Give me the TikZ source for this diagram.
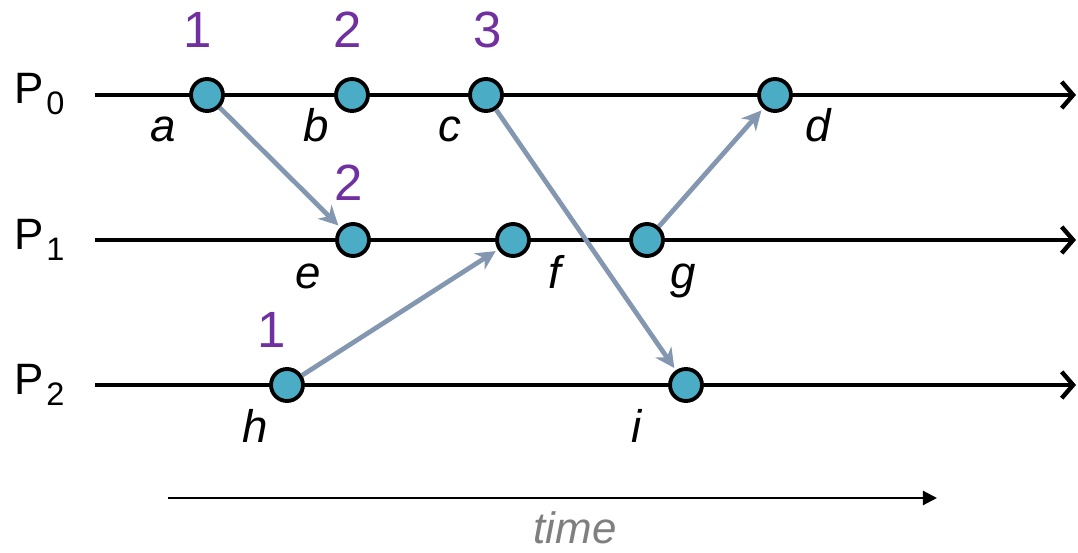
\documentclass[tikz,border=0pt]{standalone}
\usepackage{fontspec}
\setmainfont{Liberation Sans}
\usetikzlibrary{arrows.meta}
\definecolor{evfill}{HTML}{4BACC6}
\definecolor{msgcol}{HTML}{8497B0}
\definecolor{numcol}{HTML}{7030A0}
\definecolor{timecol}{HTML}{7F7F7F}
\begin{document}
\begin{tikzpicture}[x=0.02cm,y=-0.02cm,
  event/.style={circle,draw=black,line width=2.2pt,fill=evfill,minimum size=0.64cm,inner sep=0pt},
  proc/.style={line width=2.5pt,-{Straight Barb[length=6.5pt,width=15pt]}},
  msg/.style={draw=msgcol,line width=2.7pt,shorten >=1.5pt,-{Stealth[length=11pt,width=11pt,inset=3.5pt]}},
  evlab/.style={anchor=base,inner sep=0pt,font=\fontsize{26}{26}\selectfont\itshape},
  num/.style={anchor=base,inner sep=0pt,text=numcol,font=\fontsize{29}{29}\selectfont},
  plab/.style={anchor=base west,inner sep=0pt,font=\fontsize{25}{25}\selectfont},
  timelab/.style={anchor=base,inner sep=0pt,text=timecol,font=\fontsize{25}{25}\selectfont\itshape},
  timearrow/.style={line width=1.2pt,-{Triangle[length=8pt,width=8pt]}}]
\useasboundingbox (0,0) rectangle (1078,553);

% process lines
\coordinate (p0s) at (95,95);  \coordinate (p0e) at (1076,95);
\coordinate (p1s) at (95,240); \coordinate (p1e) at (1076,240);
\coordinate (p2s) at (95,385); \coordinate (p2e) at (1076,385);
\draw[proc] (p0s) -- (p0e);
\draw[proc] (p1s) -- (p1e);
\draw[proc] (p2s) -- (p2e);

% process labels
\newcommand{\procname}[1]{P\hspace{1.5pt}\raisebox{-6.2pt}{\fontsize{18.5}{18.5}\selectfont #1}}
\node[plab] (lp0) at (14,104) {\procname{0}};
\node[plab] (lp1) at (14,250) {\procname{1}};
\node[plab] (lp2) at (14,395) {\procname{2}};

% events
\node[event] (a) at (207,95) {};
\node[event] (b) at (352,95) {};
\node[event] (c) at (486,95) {};
\node[event] (d) at (775,95) {};
\node[event] (e) at (353,240) {};
\node[event] (f) at (513,240) {};
\node[event] (g) at (647,240) {};
\node[event] (h) at (287,385) {};
\node[event] (i) at (686,385) {};

% messages
\draw[msg] (a) -- (e);
\draw[msg] (c) -- (i);
\draw[msg] (h) -- (f);
\draw[msg] (g) -- (d);

% event labels
\node[evlab] (la) at (163,142) {a};
\node[evlab] (lb) at (316,142) {b};
\node[evlab] (lc) at (450,142) {c};
\node[evlab] (ld) at (818,142) {d};
\node[evlab] (le) at (308,289) {e};
\node[evlab] (lf) at (555,289) {f};
\node[evlab] (lg) at (683,289) {g};
\node[evlab] (lh) at (255,443) {h};
\node[evlab] (li) at (637,443) {i};

% clock numbers
\node[num] (na) at (198,48) {1};
\node[num] (nb) at (348,48) {2};
\node[num] (nc) at (488,48) {3};
\node[num] (ne) at (349,201) {2};
\node[num] (nh) at (272,348) {1};

% time axis
\coordinate (t0) at (168,498);
\coordinate (t1) at (937,498);
\draw[timearrow] (t0) -- (t1);
\node[timelab] (tl) at (575,543) {time};
\end{tikzpicture}
\end{document}
